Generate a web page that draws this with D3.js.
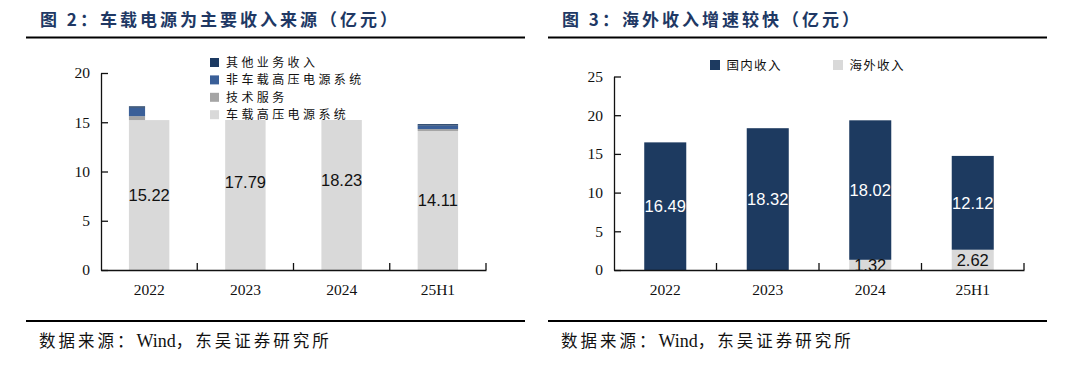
<!DOCTYPE html>
<html>
<head>
<meta charset="utf-8">
<script src="https://cdn.jsdelivr.net/npm/d3@7"></script>
<style>
    html, body { margin: 0; padding: 0; background: #fff; }
    svg { display: block; }
    .cjk { font-family: "Noto Sans CJK SC", sans-serif; }
    .serif { font-family: "Liberation Serif", "Times New Roman", serif; }
</style>
</head>
<body>
<div id="chart"></div>
<script>
// ---- data ----
const years = ["2022", "2023", "2024", "25H1"];

// left: revenue by business (亿元)
const bizNames = ["车载高压电源系统", "技术服务", "非车载高压电源系统", "其他业务收入"];
const vehiclePower = [15.22, 17.79, 18.23, 14.11];
const techService = [0.40, 0, 0, 0.20];
const nonVehiclePower = [0.85, 0, 0, 0.35];
const otherBiz = [0.15, 0, 0, 0.15];
const leftTicks = [0, 5, 10, 15, 20];

// right: domestic vs overseas (亿元)
const regionNames = ["国内收入", "海外收入"];
const domestic = [16.49, 18.32, 18.02, 12.12];
const overseas = [0, 0, 1.32, 2.62];
const rightTicks = [0, 5, 10, 15, 20, 25];

const W = 1079, H = 365;
const svg = d3.select("#chart").append("svg")
    .attr("width", W)
    .attr("height", H);

const navy = "#1d3a60";
const titleColor = "#203864";

// Titles, rules and source lines for both panels
function frame(x0, x1, titleText) {
    svg.append("text")
        .attr("class", "cjk")
        .attr("x", x0 + 14)
        .attr("y", 26)
        .attr("font-size", 17)
        .attr("font-weight", "bold")
        .attr("letter-spacing", "3px")
        .attr("fill", titleColor)
        .text(titleText);

    svg.append("line")
        .attr("x1", x0).attr("x2", x1)
        .attr("y1", 37.5).attr("y2", 37.5)
        .attr("stroke", "#000").attr("stroke-width", 2);

    svg.append("line")
        .attr("x1", x0).attr("x2", x1)
        .attr("y1", 321).attr("y2", 321)
        .attr("stroke", "#000").attr("stroke-width", 2);

    const src = svg.append("text")
        .attr("x", x0 + 13)
        .attr("y", 347)
        .attr("font-size", 16.5)
        .attr("fill", "#111");
    src.append("tspan").attr("class", "cjk").attr("letter-spacing", "3px").text("数据来源：");
    src.append("tspan").attr("class", "serif").attr("font-size", 18).text("Wind");
    src.append("tspan").attr("class", "cjk").attr("letter-spacing", "3px").text("，东吴证券研究所");
}

frame(26, 525, "图 2：车载电源为主要收入来源（亿元）");
frame(548, 1047, "图 3：海外收入增速较快（亿元）");

// shared axes helper
function drawAxes(g, x, y, ticks, plotLeft, plotRight) {
    const yAxis = d3.axisLeft(y)
        .tickValues(ticks)
        .tickSizeInner(-7)
        .tickSizeOuter(0)
        .tickPadding(11);
    g.append("g")
        .attr("transform", "translate(" + plotLeft + ",0)")
        .call(yAxis)
        .call(a => a.selectAll("text")
            .attr("class", "serif")
            .attr("font-size", 15.5)
            .attr("fill", "#111"))
        .call(a => a.selectAll("line, path").attr("stroke", "#111").attr("stroke-width", 1.3));

    const xAxis = d3.axisBottom(x)
        .tickSize(0)
        .tickPadding(14);
    g.append("g")
        .attr("transform", "translate(0," + y(0) + ")")
        .call(xAxis)
        .call(a => a.selectAll("text")
            .attr("class", "serif")
            .attr("font-size", 15.5)
            .attr("fill", "#111"))
        .call(a => a.selectAll("path").attr("stroke", "#111").attr("stroke-width", 1.3));

    // tick marks at category boundaries, pointing up
    const bounds = x.domain().slice(1).map(d => x(d)).concat([plotRight]);
    g.selectAll(".btick")
        .data(bounds)
        .enter()
        .append("line")
        .attr("x1", d => d).attr("x2", d => d)
        .attr("y1", y(0)).attr("y2", y(0) - 7)
        .attr("stroke", "#111").attr("stroke-width", 1.3);
}

// ---- left chart ----
(function () {
    const left = 101, right = 486;
    const g = svg.append("g");
    const x = d3.scaleBand().domain(years).range([left, right]).padding(0);
    const y = d3.scaleLinear().domain([0, 20]).range([270, 73]);
    const bw = x.bandwidth() * 0.42;
    const colors = ["#d9d9d9", "#a5a5a5", "#3a5f98", "#1c3a62"];
    // 2022 upper segments are drawn narrower, as in the source
    const segWidth = [0.4, 1, 1, 1];

    // light gray base is cut off at the 2022 level in the source picture
    svg.append("clipPath").attr("id", "capClip")
        .append("rect")
        .attr("x", left).attr("width", right - left)
        .attr("y", y(vehiclePower[0])).attr("height", y(0) - y(vehiclePower[0]));

    g.append("g")
        .attr("clip-path", "url(#capClip)")
        .selectAll("rect")
        .data(vehiclePower)
        .enter()
        .append("rect")
        .attr("x", (d, i) => x(years[i]) + (x.bandwidth() - bw) / 2)
        .attr("width", bw)
        .attr("y", d => y(d))
        .attr("height", d => y(0) - y(d))
        .attr("fill", colors[0]);

    const upper = [techService, nonVehiclePower, otherBiz];
    years.forEach((yr, i) => {
        let base = Math.min(vehiclePower[i], vehiclePower[0]);
        upper.forEach((series, s) => {
            const v = series[i];
            if (v <= 0) return;
            g.append("rect")
                .attr("x", x(yr) + (x.bandwidth() - bw) / 2)
                .attr("width", bw * segWidth[i])
                .attr("y", y(base + v))
                .attr("height", y(base) - y(base + v))
                .attr("fill", colors[s + 1]);
            base += v;
        });
    });

    g.selectAll(".lbl")
        .data(vehiclePower)
        .enter()
        .append("text")
        .attr("font-family", "Liberation Sans, Arial, sans-serif")
        .attr("font-size", 16.5)
        .attr("fill", "#111")
        .attr("text-anchor", "middle")
        .attr("dy", "0.36em")
        .attr("x", (d, i) => x(years[i]) + x.bandwidth() / 2)
        .attr("y", d => y(d / 2))
        .text(d => d.toFixed(2));

    drawAxes(g, x, y, leftTicks, left, right);

    // legend (top first)
    const legendOrder = [3, 2, 1, 0];
    const lg = g.append("g");
    legendOrder.forEach((k, r) => {
        const cy = 62.5 + r * 17.4;
        lg.append("rect")
            .attr("x", 210).attr("y", cy - 4.5)
            .attr("width", 9).attr("height", 9)
            .attr("fill", colors[k]);
        lg.append("text")
            .attr("class", "cjk")
            .attr("x", 226).attr("y", cy)
            .attr("dy", "0.36em")
            .attr("font-size", 12)
            .attr("letter-spacing", "3.4px")
            .attr("fill", "#111")
            .text(bizNames[k]);
    });
})();

// ---- right chart ----
(function () {
    const left = 614, right = 1024;
    const g = svg.append("g");
    const x = d3.scaleBand().domain(years).range([left, right]).padding(0);
    const y = d3.scaleLinear().domain([0, 25]).range([270, 76.5]);
    const bw = x.bandwidth() * 0.41;
    const colors = [navy, "#d9d9d9"];

    const stackData = years.map((yr, i) => ({year: yr, overseas: overseas[i], domestic: domestic[i]}));
    const stack = d3.stack().keys(["overseas", "domestic"]);
    const layers = stack(stackData);

    g.selectAll(".layer")
        .data(layers)
        .enter()
        .append("g")
        .attr("fill", d => d.key === "domestic" ? colors[0] : colors[1])
        .selectAll("rect")
        .data(d => d)
        .enter()
        .append("rect")
        .attr("x", d => x(d.data.year) + (x.bandwidth() - bw) / 2)
        .attr("width", bw)
        .attr("y", d => y(d[1]))
        .attr("height", d => y(d[0]) - y(d[1]));

    // domestic labels (white)
    g.selectAll(".dl")
        .data(layers[1])
        .enter()
        .append("text")
        .attr("font-family", "Liberation Sans, Arial, sans-serif")
        .attr("font-size", 16.5)
        .attr("fill", "#fff")
        .attr("text-anchor", "middle")
        .attr("dy", "0.36em")
        .attr("x", d => x(d.data.year) + x.bandwidth() / 2)
        .attr("y", d => y((d[0] + d[1]) / 2))
        .text(d => d.data.domestic.toFixed(2));

    // overseas labels only where there is a value
    g.selectAll(".ol")
        .data(layers[0].filter(d => d.data.overseas > 0))
        .enter()
        .append("text")
        .attr("font-family", "Liberation Sans, Arial, sans-serif")
        .attr("font-size", 16.5)
        .attr("fill", "#111")
        .attr("text-anchor", "middle")
        .attr("dy", "0.36em")
        .attr("x", d => x(d.data.year) + x.bandwidth() / 2)
        .attr("y", d => y((d[0] + d[1]) / 2))
        .text(d => d.data.overseas.toFixed(2));

    drawAxes(g, x, y, rightTicks, left, right);

    // legend
    const lx = [710, 833];
    regionNames.forEach((name, k) => {
        g.append("rect")
            .attr("x", lx[k]).attr("y", 60)
            .attr("width", 10).attr("height", 10)
            .attr("fill", colors[k]);
        g.append("text")
            .attr("class", "cjk")
            .attr("x", lx[k] + 16.5).attr("y", 65)
            .attr("dy", "0.36em")
            .attr("font-size", 12.5)
            .attr("letter-spacing", "1.3px")
            .attr("fill", "#111")
            .text(name);
    });
})();
</script>
</body>
</html>
